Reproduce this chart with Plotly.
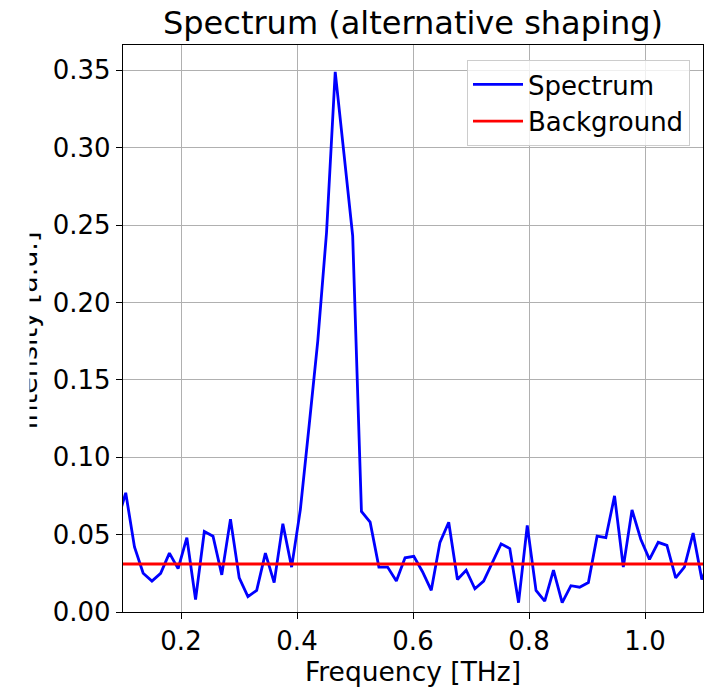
import plotly.graph_objects as go

# Frequency grid [THz]
freq = [0.0897, 0.1047, 0.1198, 0.1348, 0.1499, 0.1649, 0.1800, 0.1950, 0.2101, 0.2251,
        0.2402, 0.2552, 0.2703, 0.2853, 0.3004, 0.3154, 0.3305, 0.3455, 0.3606, 0.3756,
        0.3907, 0.4057, 0.4208, 0.4358, 0.4509, 0.4659, 0.4810, 0.4960, 0.5111, 0.5261,
        0.5412, 0.5562, 0.5713, 0.5863, 0.6014, 0.6164, 0.6315, 0.6465, 0.6616, 0.6766,
        0.6917, 0.7067, 0.7218, 0.7368, 0.7519, 0.7669, 0.7820, 0.7970, 0.8121, 0.8271,
        0.8422, 0.8572, 0.8723, 0.8873, 0.9024, 0.9174, 0.9325, 0.9475, 0.9626, 0.9776,
        0.9927, 1.0077, 1.0228, 1.0378, 1.0529, 1.0679, 1.0830, 1.0980, 1.1131]

# Spectrum intensity [a.u.]
spectrum = [0.058, 0.077, 0.042, 0.025, 0.020, 0.025, 0.038, 0.028, 0.048, 0.008,
            0.052, 0.049, 0.024, 0.060, 0.022, 0.010, 0.014, 0.038, 0.019, 0.057,
            0.029, 0.066, 0.120, 0.175, 0.245, 0.349, 0.296, 0.243, 0.065, 0.058,
            0.029, 0.029, 0.020, 0.035, 0.036, 0.026, 0.014, 0.045, 0.058, 0.021,
            0.027, 0.015, 0.020, 0.032, 0.044, 0.041, 0.006, 0.056, 0.014, 0.007,
            0.027, 0.006, 0.017, 0.016, 0.019, 0.049, 0.048, 0.075, 0.029, 0.066,
            0.047, 0.034, 0.045, 0.043, 0.022, 0.029, 0.051, 0.021, 0.035]

# Background level
bg_freq = [0.1, 1.1]
bg_level = [0.031, 0.031]

x_ticks = [0.2, 0.4, 0.6, 0.8, 1.0]
x_ticklabels = ["0.2", "0.4", "0.6", "0.8", "1.0"]
y_ticks = [0.00, 0.05, 0.10, 0.15, 0.20, 0.25, 0.30, 0.35]
y_ticklabels = ["0.00", "0.05", "0.10", "0.15", "0.20", "0.25", "0.30", "0.35"]

FONT = "DejaVu Sans"
FS = 26
W, H = 711, 691
L, R, T, B = 123, 8, 45, 79
PW = W - L - R
PH = H - T - B

fig = go.Figure()
fig.add_trace(go.Scatter(x=freq, y=spectrum, mode="lines", name="Spectrum",
                         line=dict(color="#0000ff", width=2.8)))
fig.add_trace(go.Scatter(x=bg_freq, y=bg_level, mode="lines", name="Background",
                         line=dict(color="#ff0000", width=2.8)))

axis_common = dict(
    showgrid=True, gridcolor="#b0b0b0", gridwidth=1.4,
    showline=True, linecolor="black", linewidth=1.4, mirror=True,
    ticks="outside", ticklen=6, tickwidth=1.4, tickcolor="black",
    tickfont=dict(family=FONT, size=FS, color="black"),
    zeroline=False,
)

fig.update_layout(
    width=W, height=H,
    margin=dict(l=L, r=R, t=T, b=B),
    paper_bgcolor="white", plot_bgcolor="white",
    font=dict(family=FONT, color="black"),
    title=dict(text="Spectrum (alternative shaping)", x=(L + PW / 2) / W, xanchor="center",
               y=1 - 23 / H, yanchor="middle",
               font=dict(family=FONT, size=32, color="black")),
    xaxis=dict(range=[0.1, 1.1], tickvals=x_ticks, ticktext=x_ticklabels,
               title=dict(text="Frequency [THz]", font=dict(family=FONT, size=26.5), standoff=4),
               **axis_common),
    yaxis=dict(range=[0, 0.3663], tickvals=y_ticks, ticktext=y_ticklabels,
               **axis_common),
    showlegend=True,
    legend=dict(x=(690 - L) / PW, xanchor="right", y=(H - B - 60) / PH, yanchor="top",
                bgcolor="rgba(255,255,255,0.8)", bordercolor="#cccccc", borderwidth=1,
                font=dict(family=FONT, size=FS, color="black"),
                itemwidth=50, tracegroupgap=2),
)

# y-axis title, partially cut at the left edge as in the reference
fig.add_annotation(text="Intensity [a.u.]", textangle=-90, showarrow=False,
                   xref="paper", yref="paper", x=(44 - L) / PW, xanchor="right",
                   y=(H - B - 331) / PH, yanchor="middle",
                   font=dict(family=FONT, size=27, color="black"))
fig.add_annotation(text=" ", showarrow=False, xref="paper", yref="paper",
                   x=(0 - L) / PW, xanchor="left", y=0.5, yanchor="middle",
                   width=28, height=260, bgcolor="white", borderpad=0)

fig.write_html("out.html")
